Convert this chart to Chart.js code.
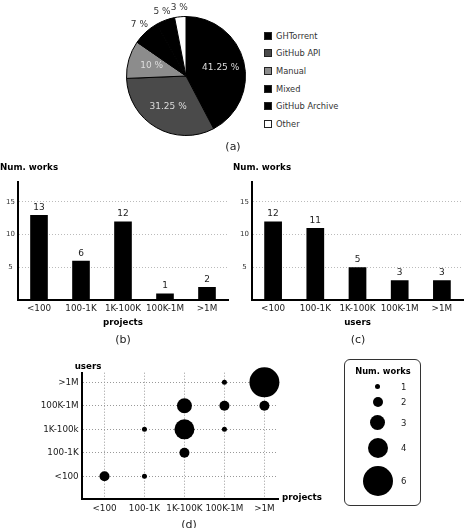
<!DOCTYPE html>
<html>
<head>
<meta charset="utf-8">
<script src="https://cdn.jsdelivr.net/npm/chart.js@4.4.1/dist/chart.umd.min.js"></script>
<style>
  body { margin: 0; width: 468px; height: 528px; position: relative; background: #fff; overflow: hidden;
         font-family: "DejaVu Sans", Verdana, sans-serif; color: #222; }
  canvas { position: absolute; }
  .t { position: absolute; white-space: nowrap; transform: translate(-50%, -50%); }
  .b { font-weight: bold; color: #000; font-size: 8.7px; }
  .cap { font-size: 11px; color: #222; }
  #pieLegend { position: absolute; left: 264px; top: 27px; font-size: 8.3px; color: #333; }
  #pieLegend div { height: 17.6px; display: flex; align-items: center; }
  #pieLegend span.sq { width: 6px; height: 6px; border: 1px solid #222; margin-right: 4px; }
  #bubbleLegend { position: absolute; left: 344px; top: 359px; width: 75px; height: 145px;
                  border: 1px solid #333; border-radius: 6px; font-size: 8.5px; }
  #bubbleLegend .dot { position: absolute; background: #000; border-radius: 50%; }
  #bubbleLegend .lab { position: absolute; left: 56px; transform: translate(0, -50%); }
</style>
</head>
<body>
<canvas id="pie" width="150" height="150" style="left:111px;top:1px"></canvas>
<div id="pieLegend"></div>
<div class="t cap" style="left:233px;top:146px">(a)</div>

<div class="b" style="position:absolute;left:0;top:162px">Num. works</div>
<canvas id="byProjects" width="232" height="153" style="left:0;top:175px"></canvas>
<div class="t cap" style="left:123px;top:339px">(b)</div>

<div class="b" style="position:absolute;left:233px;top:162px">Num. works</div>
<canvas id="byUsers" width="232" height="153" style="left:233px;top:175px"></canvas>
<div class="t cap" style="left:358px;top:339px">(c)</div>

<canvas id="bubbles" width="300" height="173" style="left:20px;top:355px"></canvas>
<div class="t b" style="left:88px;top:366px">users</div>
<div class="b" style="position:absolute;left:282px;top:492px">projects</div>
<div class="t cap" style="left:189px;top:524px">(d)</div>

<div id="bubbleLegend"><div class="t b" style="left:38px;top:11px;font-size:8.3px">Num. works</div></div>

<script>
// (a) data source
const sources = ["GHTorrent", "GitHub API", "Manual", "Mixed", "GitHub Archive", "Other"];
const sourceShare = [41.25, 31.25, 10, 7, 5, 3];
const sourceColors = ["#000", "#4a4a4a", "#8c8c8c", "#000", "#000", "#fff"];

// (b) (c) number of works per size class
const sizeCats = ["<100", "100-1K", "1K-100K", "100K-1M", ">1M"];
const worksByProjects = [13, 6, 12, 1, 2];
const worksByUsers = [12, 11, 5, 3, 3];

// (d) projects x users
const userCats = ["<100", "100-1K", "1K-100k", "100K-1M", ">1M"];
const bubbleProjects = ["<100", "100-1K", "1K-100K", "100-1K", "1K-100K", "100K-1M", "1K-100K", "100K-1M", ">1M", "100K-1M", ">1M"];
const bubbleUsers    = ["<100", "<100", "100-1K", "1K-100k", "1K-100k", "1K-100k", "100K-1M", "100K-1M", "100K-1M", ">1M", ">1M"];
const bubbleWorks    = [2, 1, 2, 1, 4, 1, 3, 2, 2, 1, 6];
const legendWorks = [1, 2, 3, 4, 6];

const rOf = n => 2.5 * n;

Chart.defaults.font.family = '"DejaVu Sans", Verdana, sans-serif';
Chart.defaults.color = '#222';

// pie labels
const pieLabels = {
  id: 'pieLabels',
  afterDatasetsDraw(chart) {
    const ctx = chart.ctx;
    ctx.save();
    ctx.font = '9px "DejaVu Sans"';
    ctx.textAlign = 'center';
    ctx.textBaseline = 'middle';
    chart.getDatasetMeta(0).data.forEach((arc, i) => {
      const v = sourceShare[i];
      const mid = (arc.startAngle + arc.endAngle) / 2;
      const inside = v >= 10;
      const d = arc.outerRadius * (inside ? 0.6 : 1.16);
      ctx.fillStyle = inside ? '#ddd' : '#333';
      ctx.fillText(v + ' %', arc.x + Math.cos(mid) * d, arc.y + Math.sin(mid) * d);
    });
    ctx.restore();
  }
};

new Chart(document.getElementById('pie'), {
  type: 'pie',
  data: { labels: sources, datasets: [{ data: sourceShare, backgroundColor: sourceColors,
          borderColor: '#000', borderWidth: 1, hoverOffset: 0 }] },
  options: { responsive: false, animation: false, events: [],
    layout: { padding: 15 },
    plugins: { legend: { display: false }, tooltip: { enabled: false } } },
  plugins: [pieLabels]
});

// legend for the pie
const pl = document.getElementById('pieLegend');
sources.forEach((s, i) => {
  const row = document.createElement('div');
  row.innerHTML = '<span class="sq" style="background:' + sourceColors[i] + '"></span>' + s;
  pl.appendChild(row);
});

// numbers above bars
const barValues = {
  id: 'barValues',
  afterDatasetsDraw(chart) {
    const ctx = chart.ctx;
    const vals = chart.data.datasets[0].data;
    ctx.save();
    ctx.font = '9px "DejaVu Sans"';
    ctx.fillStyle = '#222';
    ctx.textAlign = 'center';
    ctx.textBaseline = 'alphabetic';
    chart.getDatasetMeta(0).data.forEach((bar, i) => ctx.fillText(vals[i], bar.x, bar.y - 5));
    ctx.restore();
  }
};

function barConfig(values, axisTitle, yWidth, padRight) {
  return {
    type: 'bar',
    data: { labels: sizeCats, datasets: [{ data: values, backgroundColor: '#000',
            categoryPercentage: 1, barPercentage: 0.42 }] },
    options: {
      responsive: false, animation: false, events: [],
      layout: { padding: { top: 5, right: padRight, left: 0, bottom: 0 } },
      plugins: { legend: { display: false }, tooltip: { enabled: false } },
      scales: {
        x: {
          grid: { display: false, drawTicks: false },
          border: { color: '#000', width: 2 },
          ticks: { color: '#222', font: { size: 8.8 }, padding: 3, maxRotation: 0, autoSkip: false },
          title: { display: true, text: axisTitle, color: '#000', font: { size: 8.7, weight: 'bold' }, padding: 0 },
          afterFit: s => { s.height = 28; }
        },
        y: {
          min: 0, max: 18,
          ticks: { stepSize: 5, color: '#333', font: { size: 7 }, padding: 3, crossAlign: 'center' },
          grid: { color: '#bbb', drawTicks: false },
          border: { color: '#000', width: 2, dash: [1, 2] },
          afterBuildTicks: s => { s.ticks = s.ticks.filter(t => t.value > 0 && t.value % 5 === 0); },
          afterFit: s => { s.width = yWidth; }
        }
      }
    },
    plugins: [barValues]
  };
}

new Chart(document.getElementById('byProjects'), barConfig(worksByProjects, 'projects', 18, 4));
new Chart(document.getElementById('byUsers'), barConfig(worksByUsers, 'users', 19, 2));

// (d) bubbles
new Chart(document.getElementById('bubbles'), {
  type: 'bubble',
  data: { datasets: [{
    data: bubbleWorks.map((n, i) => ({ x: sizeCats.indexOf(bubbleProjects[i]), y: userCats.indexOf(bubbleUsers[i]), r: rOf(n) })),
    backgroundColor: '#000', borderWidth: 0, hoverRadius: 0, clip: false }] },
  options: {
    responsive: false, animation: false, events: [],
    layout: { padding: { top: 17.7, right: 42, left: 0, bottom: 0 } },
    plugins: { legend: { display: false }, tooltip: { enabled: false } },
    scales: {
      x: {
        type: 'linear', min: -0.57, max: 4.34,
        afterBuildTicks: s => { s.ticks = sizeCats.map((c, i) => ({ value: i })); },
        ticks: { callback: v => sizeCats[v], color: '#222', font: { size: 8.8 }, padding: 4, maxRotation: 0, autoSkip: false },
        grid: { color: '#999', drawTicks: false },
        border: { color: '#000', width: 2, dash: [1, 2] },
        afterFit: s => { s.height = 28.7; }
      },
      y: {
        type: 'linear', min: -0.98, max: 4.41,
        afterBuildTicks: s => { s.ticks = userCats.map((c, i) => ({ value: i })); },
        ticks: { callback: v => userCats[v], color: '#222', font: { size: 8.8 }, padding: 3, autoSkip: false },
        grid: { color: '#999', drawTicks: false },
        border: { color: '#000', width: 2, dash: [1, 2] },
        afterFit: s => { s.width = 61.7; }
      }
    }
  }
});

// bubble size legend
const bl = document.getElementById('bubbleLegend');
let y = 24;
legendWorks.forEach((n, i) => {
  const r = rOf(n);
  if (i > 0) y += 8;
  const cy = y + r;
  const dot = document.createElement('div');
  dot.className = 'dot';
  dot.style.cssText = 'left:' + (32.7 - r) + 'px;top:' + (cy - r) + 'px;width:' + (2 * r) + 'px;height:' + (2 * r) + 'px';
  const lab = document.createElement('div');
  lab.className = 'lab';
  lab.style.top = cy + 'px';
  lab.textContent = n;
  bl.appendChild(dot);
  bl.appendChild(lab);
  y += 2 * r;
});
</script>
</body>
</html>
